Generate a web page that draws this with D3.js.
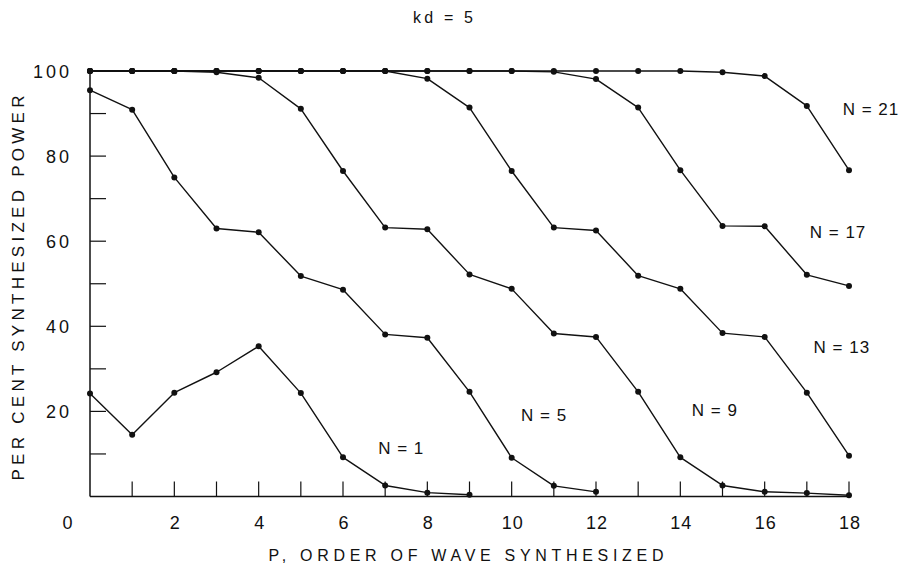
<!DOCTYPE html>
<html>
<head>
<meta charset="utf-8">
<script src="https://cdn.jsdelivr.net/npm/d3@7/dist/d3.min.js"></script>
<style>
  html, body { margin: 0; padding: 0; background: #fff; }
  svg text { font-family: "Liberation Sans", "DejaVu Sans", sans-serif; fill: #111; }
</style>
</head>
<body>
<svg id="chart" width="900" height="569"></svg>
<script>
// ---- data ----
const title = "kd = 5";
const xLabel = "P, ORDER OF WAVE SYNTHESIZED";
const yLabel = "PER CENT SYNTHESIZED POWER";
const xTickLabels = [0, 2, 4, 6, 8, 10, 12, 14, 16, 18];
const yTickLabels = [20, 40, 60, 80, 100];
const seriesNames = ["N = 1", "N = 5", "N = 9", "N = 13", "N = 17", "N = 21"];

const pN1  = [0, 1, 2, 3, 4, 5, 6, 7, 8, 9];
const vN1  = [24.2, 14.5, 24.4, 29.2, 35.3, 24.3, 9.2, 2.6, 0.9, 0.4];

const pN5  = [0, 1, 2, 3, 4, 5, 6, 7, 8, 9, 10, 11, 12];
const vN5  = [95.5, 90.9, 75.0, 63.0, 62.1, 51.8, 48.6, 38.1, 37.3, 24.6, 9.1, 2.5, 1.1];

const pN9  = [0, 1, 2, 3, 4, 5, 6, 7, 8, 9, 10, 11, 12, 13, 14, 15, 16, 17, 18];
const vN9  = [100, 100, 100, 99.7, 98.4, 91.1, 76.5, 63.2, 62.8, 52.2, 48.8, 38.3, 37.5, 24.6, 9.2, 2.6, 1.1, 0.8, 0.3];

const pN13 = [0, 1, 2, 3, 4, 5, 6, 7, 8, 9, 10, 11, 12, 13, 14, 15, 16, 17, 18];
const vN13 = [100, 100, 100, 100, 100, 100, 100, 100, 98.2, 91.4, 76.5, 63.2, 62.5, 51.9, 48.8, 38.4, 37.5, 24.4, 9.6];

const pN17 = [0, 1, 2, 3, 4, 5, 6, 7, 8, 9, 10, 11, 12, 13, 14, 15, 16, 17, 18];
const vN17 = [100, 100, 100, 100, 100, 100, 100, 100, 100, 100, 100, 99.8, 98.1, 91.4, 76.7, 63.6, 63.5, 52.1, 49.5];

const pN21 = [0, 1, 2, 3, 4, 5, 6, 7, 8, 9, 10, 11, 12, 13, 14, 15, 16, 17, 18];
const vN21 = [100, 100, 100, 100, 100, 100, 100, 100, 100, 100, 100, 100, 100, 100, 100, 99.7, 98.8, 91.8, 76.7];

// label anchor positions in data units (p, value)
const labelP = [7.38, 10.77, 14.82, 17.83, 17.74, 18.52];
const labelV = [11.4, 19.2, 20.3, 35.1, 62.2, 91.0];

// ---- drawing ----
const series = [
  {name: seriesNames[0], p: pN1, v: vN1},
  {name: seriesNames[1], p: pN5, v: vN5},
  {name: seriesNames[2], p: pN9, v: vN9},
  {name: seriesNames[3], p: pN13, v: vN13},
  {name: seriesNames[4], p: pN17, v: vN17},
  {name: seriesNames[5], p: pN21, v: vN21}
];

const svg = d3.select("#chart");
const x = d3.scaleLinear().domain([0, 18]).range([90, 849]);
const y = d3.scaleLinear().domain([0, 100]).range([496.5, 71]);
const ink = "#111";

// axes lines
svg.append("line").attr("x1", x(0)).attr("x2", x(0)).attr("y1", y(0)).attr("y2", y(100))
  .attr("stroke", ink).attr("stroke-width", 1.5);
svg.append("line").attr("x1", x(0)).attr("x2", x(18)).attr("y1", y(0)).attr("y2", y(0))
  .attr("stroke", ink).attr("stroke-width", 1.5);

// x ticks (inside, every integer)
svg.append("g").selectAll("line").data(d3.range(1, 19)).join("line")
  .attr("x1", d => x(d)).attr("x2", d => x(d))
  .attr("y1", y(0)).attr("y2", y(0) - 15)
  .attr("stroke", ink).attr("stroke-width", 1.2);

// y ticks (inside, every 10)
svg.append("g").selectAll("line").data(d3.range(10, 100, 10)).join("line")
  .attr("x1", x(0)).attr("x2", x(0) + 16)
  .attr("y1", d => y(d)).attr("y2", d => y(d))
  .attr("stroke", ink).attr("stroke-width", 1.2);

// x tick labels
svg.append("g").selectAll("text").data(xTickLabels).join("text")
  .attr("x", d => d === 0 ? x(0) - 22 : x(d) + 1)
  .attr("y", 529)
  .attr("text-anchor", "middle")
  .attr("font-size", 18)
  .attr("letter-spacing", 1)
  .text(d => d);

// y tick labels
svg.append("g").selectAll("text").data(yTickLabels).join("text")
  .attr("x", 72)
  .attr("y", d => y(d) + 6.5)
  .attr("text-anchor", "end")
  .attr("font-size", 18)
  .attr("letter-spacing", 3)
  .text(d => d);

// title
svg.append("text").attr("x", 443).attr("y", 23).attr("text-anchor", "middle")
  .attr("font-size", 16).attr("textLength", 60).attr("lengthAdjust", "spacing").text(title);

// x axis title
svg.append("text").attr("x", 466).attr("y", 561).attr("text-anchor", "middle")
  .attr("font-size", 16).attr("textLength", 395).attr("lengthAdjust", "spacing")
  .text(xLabel);

// y axis title
svg.append("text").attr("transform", "translate(24,288) rotate(-90)")
  .attr("text-anchor", "middle")
  .attr("font-size", 17).attr("textLength", 385).attr("lengthAdjust", "spacing")
  .text(yLabel);

// lines
const line = d3.line().x(d => x(d[0])).y(d => y(d[1]));
const g = svg.append("g");
series.forEach((s, i) => {
  const pts = s.p.map((p, j) => [p, s.v[j]]);
  g.append("path").attr("d", line(pts)).attr("fill", "none")
    .attr("stroke", ink).attr("stroke-width", 1.4).attr("stroke-linejoin", "round");
  g.append("g").selectAll("circle").data(pts).join("circle")
    .attr("cx", d => x(d[0])).attr("cy", d => y(d[1])).attr("r", 3).attr("fill", ink);
  g.append("text")
    .attr("x", x(labelP[i])).attr("y", y(labelV[i]) + 6)
    .attr("font-size", 17).attr("text-anchor", "middle").attr("letter-spacing", 1)
    .text(s.name);
});
</script>
</body>
</html>
